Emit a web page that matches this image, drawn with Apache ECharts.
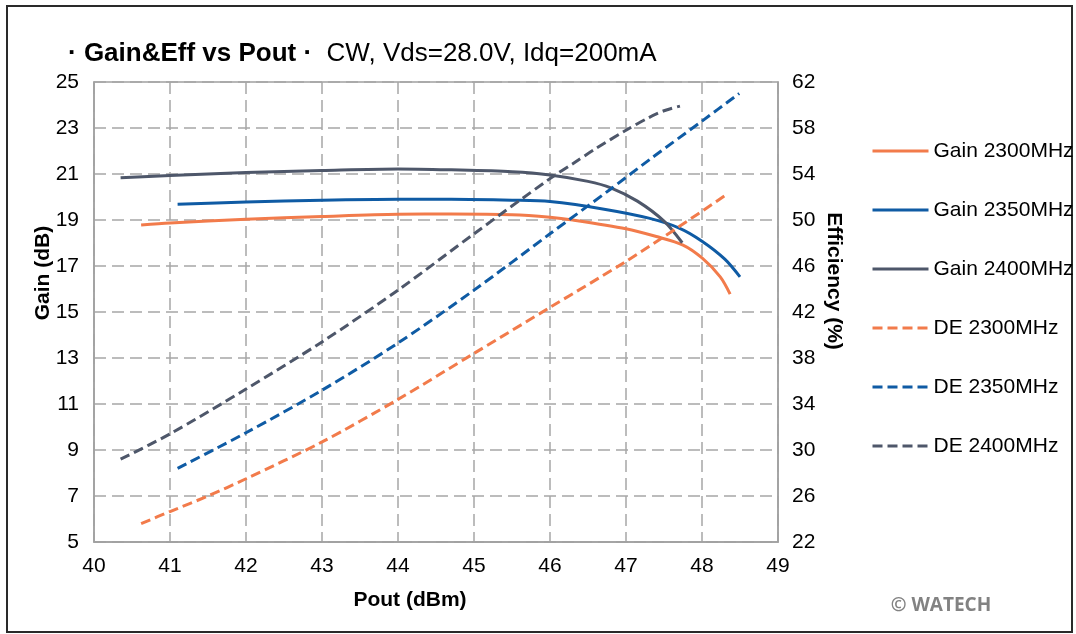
<!DOCTYPE html>
<html>
<head>
<meta charset="utf-8">
<title>Gain&amp;Eff vs Pout</title>
<script src="https://cdn.jsdelivr.net/npm/echarts@6/dist/echarts.min.js"></script>
<style>
html,body{margin:0;padding:0;background:#fff;}
#chart{width:1076px;height:634px;}
</style>
</head>
<body>
<div id="chart"></div>
<script>
// Pout (dBm) points, one list per curve
var gain2300X = [40.62, 41.0, 42.0, 43.0, 44.0, 44.7, 45.5, 46.0, 46.3, 47.0, 47.4, 47.75, 48.0, 48.24, 48.37];
var gain2300Y = [18.78, 18.87, 19.03, 19.15, 19.25, 19.26, 19.23, 19.12, 19.0, 18.62, 18.28, 17.91, 17.35, 16.53, 15.78];

var gain2350X = [41.1, 42.0, 43.0, 44.0, 44.7, 45.5, 46.0, 46.75, 47.3, 47.7, 48.0, 48.3, 48.5];
var gain2350Y = [19.68, 19.78, 19.86, 19.9, 19.9, 19.86, 19.8, 19.45, 19.08, 18.65, 18.08, 17.3, 16.53];

var gain2400X = [40.35, 41.0, 42.0, 43.0, 44.0, 44.7, 45.5, 46.0, 46.5, 46.8, 47.15, 47.5, 47.74];
var gain2400Y = [20.84, 20.93, 21.06, 21.15, 21.22, 21.18, 21.1, 20.96, 20.68, 20.4, 19.82, 18.95, 18.01];

var de2300X = [40.62, 41.0, 41.5, 42.0, 43.0, 44.0, 45.0, 46.0, 47.0, 47.67, 48.32];
var de2300Y = [23.6, 24.65, 26.0, 27.5, 30.7, 34.4, 38.4, 42.4, 46.4, 49.3, 52.2];

var de2350X = [41.1, 42.0, 43.0, 44.0, 45.0, 46.0, 46.8, 47.32, 48.0, 48.49];
var de2350Y = [28.4, 31.5, 35.2, 39.3, 43.9, 48.8, 52.7, 55.3, 58.6, 61.0];

var de2400X = [40.35, 41.0, 42.0, 43.0, 44.0, 45.0, 46.0, 46.3, 46.6, 47.0, 47.3, 47.5, 47.71];
var de2400Y = [29.2, 31.4, 35.3, 39.4, 43.9, 48.8, 53.6, 54.9, 56.2, 57.8, 58.9, 59.5, 59.9];

var cOrange = '#F27B4B';
var cBlue = '#0F5BA4';
var cGray = '#4E576A';
var gridGray = '#a6a6a6';
var font = '"Liberation Sans", Arial, sans-serif';

function pairs(xs, ys) {
    var out = [];
    for (var i = 0; i < xs.length; i++) out.push([xs[i], ys[i]]);
    return out;
}

function curve(name, xs, ys, color, axis, dashed) {
    return {
        name: name,
        type: 'line',
        yAxisIndex: axis,
        smooth: 0.3,
        showSymbol: false,
        symbol: 'none',
        lineStyle: { color: color, width: 3, type: dashed ? [10, 5] : 'solid' },
        itemStyle: { color: color },
        data: pairs(xs, ys)
    };
}

var chart = echarts.init(document.getElementById('chart'));
var option = {
    animation: false,
    backgroundColor: '#fff',
    textStyle: { fontFamily: font },
    title: {
        left: 63,
        top: 36,
        text: '{b|· Gain&Eff vs Pout ·}{n|  CW, Vds=28.0V, Idq=200mA}',
        textStyle: {
            fontWeight: 'normal',
            rich: {
                b: { fontFamily: font, fontSize: 26, fontWeight: 'bold', color: '#000' },
                n: { fontFamily: font, fontSize: 26, fontWeight: 'normal', color: '#000' }
            }
        }
    },
    grid: { left: 94, right: 298, top: 82, bottom: 92, show: true, borderColor: '#a0a0a0', borderWidth: 1.5 },
    legend: {
        orient: 'vertical',
        left: 866,
        top: 135,
        itemWidth: 56,
        itemHeight: 14,
        itemGap: 37,
        itemStyle: { opacity: 0 },
        lineStyle: { width: 3 },
        textStyle: { fontFamily: font, fontSize: 21, color: '#000', lineHeight: 22 },
        data: ['Gain 2300MHz', 'Gain 2350MHz', 'Gain 2400MHz', 'DE 2300MHz', 'DE 2350MHz', 'DE 2400MHz']
    },
    xAxis: {
        type: 'value',
        min: 40, max: 49, interval: 1,
        axisLine: { show: true, lineStyle: { color: '#a0a0a0', width: 1.5 } },
        axisTick: { show: false },
        axisLabel: { color: '#000', fontSize: 21, margin: 14, fontFamily: font },
        splitLine: { show: true, lineStyle: { color: gridGray, width: 1.5, type: [12, 6] } }
    },
    yAxis: [{
        type: 'value',
        min: 5, max: 25, interval: 2,
        axisLine: { show: true, lineStyle: { color: '#a0a0a0', width: 1.5 } },
        axisTick: { show: false },
        axisLabel: { color: '#000', fontSize: 21, margin: 15, fontFamily: font },
        splitLine: { show: true, lineStyle: { color: gridGray, width: 1.5, type: [12, 6] } }
    }, {
        type: 'value',
        min: 22, max: 62, interval: 4,
        position: 'right',
        axisLine: { show: true, lineStyle: { color: '#a0a0a0', width: 1.5 } },
        axisTick: { show: false },
        axisLabel: { color: '#000', fontSize: 21, margin: 14, fontFamily: font },
        splitLine: { show: false }
    }],
    graphic: [
        {   // outer frame
            type: 'rect', silent: true, z: -1,
            shape: { x: 7, y: 6, width: 1065, height: 626 },
            style: { fill: 'none', stroke: '#2a2a2a', lineWidth: 2 }
        },
        {
            type: 'text', x: 43, y: 273, rotation: Math.PI / 2,
            style: { text: 'Gain (dB)', font: 'bold 21px ' + font, fill: '#000', align: 'center', verticalAlign: 'middle' }
        },
        {
            type: 'text', x: 834, y: 281, rotation: -Math.PI / 2,
            style: { text: 'Efficiency (%)', font: 'bold 21px ' + font, fill: '#000', align: 'center', verticalAlign: 'middle' }
        },
        {
            type: 'text', x: 410, y: 600,
            style: { text: 'Pout (dBm)', font: 'bold 21px ' + font, fill: '#000', align: 'center', verticalAlign: 'middle' }
        },
        {
            type: 'text', x: 941, y: 606,
            style: { text: '© WATECH', font: 'bold 19px "Open Sans", sans-serif', fill: '#828282', align: 'center', verticalAlign: 'middle' }
        }
    ],
    series: [
        curve('Gain 2300MHz', gain2300X, gain2300Y, cOrange, 0, false),
        curve('Gain 2350MHz', gain2350X, gain2350Y, cBlue, 0, false),
        curve('Gain 2400MHz', gain2400X, gain2400Y, cGray, 0, false),
        curve('DE 2300MHz', de2300X, de2300Y, cOrange, 1, true),
        curve('DE 2350MHz', de2350X, de2350Y, cBlue, 1, true),
        curve('DE 2400MHz', de2400X, de2400Y, cGray, 1, true)
    ]
};
chart.setOption(option);
</script>
</body>
</html>
